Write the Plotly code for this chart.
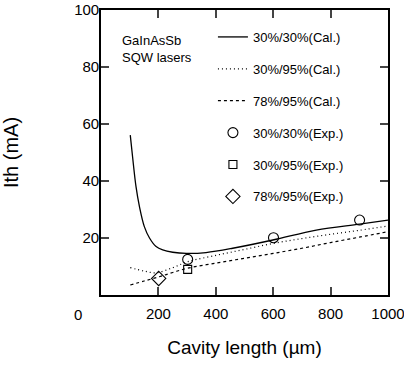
import plotly.graph_objects as go

# Calculated curves
cal_30_30_x = [102, 110, 122, 134, 151, 169, 192, 215, 250, 297, 366, 459, 599, 750, 901, 1000]
cal_30_30_y = [56.1, 48.5, 38.0, 31.0, 24.0, 20.0, 17.0, 15.8, 15.0, 14.6, 14.9, 16.4, 19.3, 22.8, 24.9, 26.3]

cal_30_95_x = [102, 150, 192, 250, 303, 400, 500, 600, 700, 800, 900, 1000]
cal_30_95_y = [9.6, 8.4, 7.8, 9.6, 11.7, 13.9, 16.0, 18.1, 19.8, 21.3, 22.7, 24.2]

cal_78_95_x = [102, 150, 203, 250, 302, 400, 500, 600, 700, 800, 900, 1000]
cal_78_95_y = [3.5, 4.9, 6.4, 7.9, 9.4, 11.2, 12.9, 14.6, 16.4, 18.4, 20.3, 22.2]

# Experimental points
exp_30_30_x = [302, 601, 901]
exp_30_30_y = [12.5, 20.1, 26.3]
exp_30_95_x = [302]
exp_30_95_y = [9.0]
exp_78_95_x = [201]
exp_78_95_y = [5.8]

x_ticks = [200, 400, 600, 800, 1000]
y_ticks = [20, 40, 60, 80, 100]

FONT = "Liberation Sans, Arial, sans-serif"
fig = go.Figure()

fig.add_trace(go.Scatter(x=cal_30_30_x, y=cal_30_30_y, mode="lines", name="30%/30%(Cal.)",
                         line=dict(color="black", width=1.3, shape="spline"), legendgroup="a"))
fig.add_trace(go.Scatter(x=cal_30_95_x, y=cal_30_95_y, mode="lines", name="30%/95%(Cal.)",
                         line=dict(color="black", width=1.2, dash="1px,3px", shape="spline"), legendgroup="b"))
fig.add_trace(go.Scatter(x=cal_78_95_x, y=cal_78_95_y, mode="lines", name="78%/95%(Cal.)",
                         line=dict(color="black", width=1.2, dash="3px,3px", shape="spline"), legendgroup="c"))
fig.add_trace(go.Scatter(x=exp_30_30_x, y=exp_30_30_y, mode="markers", name="30%/30%(Exp.)",
                         marker=dict(symbol="circle-open", size=10, color="black", line=dict(width=1.1)),
                         legendgroup="d"))
fig.add_trace(go.Scatter(x=exp_30_95_x, y=exp_30_95_y, mode="markers", name="30%/95%(Exp.)",
                         marker=dict(symbol="square-open", size=8, color="black", line=dict(width=1.1)),
                         legendgroup="e"))
fig.add_trace(go.Scatter(x=exp_78_95_x, y=exp_78_95_y, mode="markers", name="78%/95%(Exp.)",
                         marker=dict(symbol="diamond-open", size=11, color="black", line=dict(width=1.1)),
                         legendgroup="f"))

fig.update_layout(
    width=404, height=368,
    margin=dict(l=101, r=16, t=10, b=73, autoexpand=False),
    paper_bgcolor="white", plot_bgcolor="white",
    font=dict(family=FONT, color="black", size=13),
    xaxis=dict(range=[0, 1000], tickvals=x_ticks, ticks="inside", ticklen=8, tickwidth=1.5,
               showline=True, linewidth=1.6, linecolor="black", mirror="ticks",
               showgrid=False, zeroline=False, ticklabeloverflow="allow",
               tickfont=dict(size=15), automargin=False, ticklabelstandoff=4,
               title=dict(text="Cavity length (µm)", font=dict(size=19), standoff=20)),
    yaxis=dict(range=[0, 100], tickvals=y_ticks, ticks="inside", ticklen=8, tickwidth=1.5,
               showline=True, linewidth=1.6, linecolor="black", mirror="ticks",
               showgrid=False, zeroline=False, ticklabeloverflow="allow",
               tickfont=dict(size=15), automargin=False, ticklabelstandoff=-3,
               title=dict(text="Ith (mA)", font=dict(size=20), standoff=52)),
    legend=dict(x=0.39, y=0.958, xanchor="left", yanchor="top", bgcolor="rgba(0,0,0,0)",
                font=dict(size=13), tracegroupgap=12, itemwidth=30),
    showlegend=True,
)

fig.add_annotation(text="GaInAsSb<br>SQW lasers", xref="paper", yref="paper", x=0.065, y=0.926,
                   xanchor="left", yanchor="top", showarrow=False, align="left", font=dict(size=13))
fig.add_annotation(text="0", xref="paper", yref="paper", x=-0.080, y=-0.067,
                   xanchor="center", yanchor="middle", showarrow=False, font=dict(size=15))

fig.write_html("out.html", config={"displayModeBar": False},
               post_script="document.body.style.margin='0';document.body.style.overflow='hidden';")
